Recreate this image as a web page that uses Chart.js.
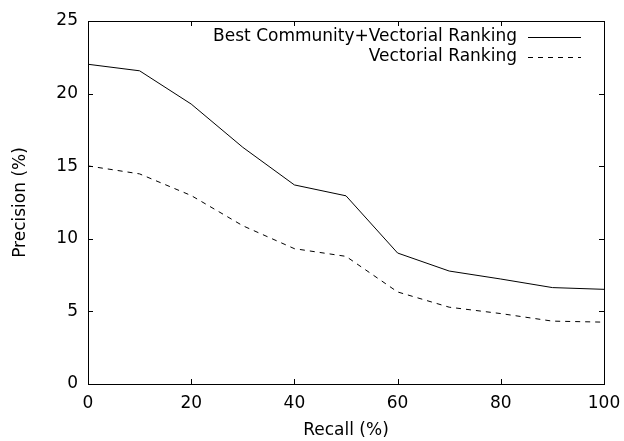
<!DOCTYPE html>
<html>
<head>
<meta charset="utf-8">
<script src="https://cdn.jsdelivr.net/npm/chart.js@4"></script>
<style>
html,body{margin:0;padding:0;background:#fff;}
#wrap{width:624px;height:441px;}
</style>
</head>
<body>
<div id="wrap"><canvas id="c" width="624" height="441"></canvas></div>
<script>
const recall = [0, 10, 20, 30, 40, 50, 60, 70, 80, 90, 100];
const bestCommunity = [22.02, 21.57, 19.28, 16.3, 13.71, 12.96, 9.02, 7.78, 7.23, 6.64, 6.52];
const vectorial = [15.02, 14.47, 12.98, 10.9, 9.32, 8.79, 6.34, 5.29, 4.85, 4.33, 4.26];
const seriesLabels = ["Best Community+Vectorial Ranking", "Vectorial Ranking"];
const xTicks = [0, 20, 40, 60, 80, 100];
const yTicks = [0, 5, 10, 15, 20, 25];

const FONT = "'DejaVu Sans', 'Liberation Sans', Arial, sans-serif";
const FSIZE = 17;

const framePlugin = {
  id: 'frame',
  afterDraw(chart) {
    const {ctx, chartArea: a, scales} = chart;
    ctx.save();
    ctx.strokeStyle = '#000';
    ctx.lineWidth = 1;
    ctx.strokeRect(a.left + 0.5, a.top + 0.5, a.right - a.left, a.bottom - a.top);
    const L = 5;
    ctx.beginPath();
    xTicks.forEach(v => {
      const px = Math.round(scales.x.getPixelForValue(v)) + 0.5;
      ctx.moveTo(px, a.bottom); ctx.lineTo(px, a.bottom - L);
      ctx.moveTo(px, a.top); ctx.lineTo(px, a.top + L);
    });
    yTicks.forEach(v => {
      const py = Math.round(scales.y.getPixelForValue(v)) + 0.5;
      ctx.moveTo(a.left, py); ctx.lineTo(a.left + L, py);
      ctx.moveTo(a.right, py); ctx.lineTo(a.right - L, py);
    });
    ctx.stroke();
    // legend
    ctx.font = FSIZE + 'px ' + FONT;
    ctx.fillStyle = '#000';
    ctx.textAlign = 'right';
    ctx.textBaseline = 'middle';
    const textRight = a.right - 87;
    const lx1 = a.right - 76, lx2 = a.right - 23;
    chart.data.datasets.forEach((ds, i) => {
      const y = a.top + 16 + i * 20;
      ctx.fillText(ds.label, textRight, y);
      ctx.beginPath();
      ctx.setLineDash(ds.borderDash || []);
      ctx.moveTo(lx1, y + 0.5); ctx.lineTo(lx2, y + 0.5);
      ctx.stroke();
    });
    ctx.restore();
  }
};

new Chart(document.getElementById('c'), {
  type: 'line',
  data: {
    datasets: [
      { label: seriesLabels[0], data: recall.map((r, i) => ({x: r, y: bestCommunity[i]})),
        borderColor: '#000', borderWidth: 1, pointRadius: 0, tension: 0, fill: false },
      { label: seriesLabels[1], data: recall.map((r, i) => ({x: r, y: vectorial[i]})),
        borderColor: '#000', borderWidth: 1, borderDash: [5, 5], pointRadius: 0, tension: 0, fill: false }
    ]
  },
  options: {
    responsive: false,
    animation: false,
    devicePixelRatio: 1,
    layout: { padding: { top: 21, right: 20, left: 0, bottom: 0 } },
    plugins: { legend: { display: false }, tooltip: { enabled: false } },
    scales: {
      x: {
        type: 'linear', min: 0, max: 100,
        afterBuildTicks(s) { s.ticks = xTicks.map(v => ({value: v})); },
        afterFit(s) { s.height = 57; s.paddingLeft = 0; s.paddingRight = 0; },
        grid: { display: false, drawTicks: false },
        border: { display: false },
        ticks: { color: '#000', font: { family: FONT, size: FSIZE }, padding: 9, maxRotation: 0 },
        title: { display: true, text: 'Recall (%)', color: '#000', font: { family: FONT, size: FSIZE }, padding: 0 }
      },
      y: {
        type: 'linear', min: 0, max: 25,
        afterBuildTicks(s) { s.ticks = yTicks.map(v => ({value: v})); },
        afterFit(s) { s.width = 88; s.paddingTop = 0; s.paddingBottom = 0; },
        grid: { display: false, drawTicks: false },
        border: { display: false },
        ticks: { color: '#000', font: { family: FONT, size: FSIZE }, padding: 10 },
        title: { display: true, text: 'Precision (%)', color: '#000', font: { family: FONT, size: FSIZE }, padding: { top: 10, bottom: 0 } }
      }
    }
  },
  plugins: [framePlugin]
});
</script>
</body>
</html>
